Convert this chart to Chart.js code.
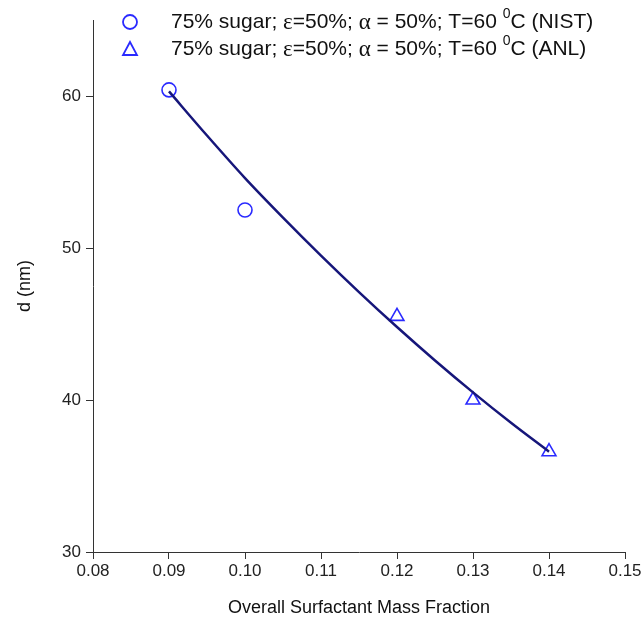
<!DOCTYPE html>
<html>
<head>
<meta charset="utf-8">
<script src="https://cdn.jsdelivr.net/npm/chart.js@4"></script>
<style>
    body { margin: 0; background: #fff; }
    #wrap { width: 641px; height: 619px; }
</style>
</head>
<body>
<div id="wrap"><canvas id="sizeChart" width="641" height="619"></canvas></div>
<script>
// measured points
const nistX = [0.09, 0.10];
const nistD = [60.4, 52.5];
const anlX = [0.12, 0.13, 0.14];
const anlD = [45.5, 40.0, 36.6];

// fitted curve
const fitX = [0.09, 0.095, 0.10, 0.105, 0.11, 0.115, 0.12, 0.125, 0.13, 0.135, 0.14];
const fitD = [60.3, 57.4, 54.6, 52.0, 49.5, 47.1, 44.8, 42.6, 40.5, 38.5, 36.6];

const xTicks = [0.08, 0.09, 0.10, 0.11, 0.12, 0.13, 0.14, 0.15];
const yTicks = [30, 40, 50, 60];

const legendLabels = [
    ['75% sugar; ', 'ε', '=50%; ', 'α', ' = 50%; T=60 ', '0', 'C (NIST)'],
    ['75% sugar; ', 'ε', '=50%; ', 'α', ' = 50%; T=60 ', '0', 'C (ANL)']
];

const toPoints = (xs, ys) => xs.map((x, i) => ({ x: x, y: ys[i] }));

const markerBlue = '#2a2aff';
const lineNavy = '#16167a';
const sans = '"Liberation Sans", Arial, sans-serif';

// legend drawn at the top of the plot, over the axes area
const topLegend = {
    id: 'topLegend',
    afterDraw(chart) {
        const ctx = chart.ctx;
        const rows = [22, 49];
        ctx.save();
        chart.data.datasets.slice(1).forEach((ds, i) => {
            const y = rows[i];
            ctx.strokeStyle = markerBlue;
            ctx.lineWidth = 1.8;
            ctx.beginPath();
            if (ds.pointStyle === 'circle') {
                ctx.arc(130, y, 7, 0, Math.PI * 2);
            } else {
                ctx.moveTo(130, y - 7);
                ctx.lineTo(137, y + 6);
                ctx.lineTo(123, y + 6);
                ctx.closePath();
            }
            ctx.stroke();

            let x = 171;
            ctx.fillStyle = '#111';
            ctx.textBaseline = 'middle';
            legendLabels[i].forEach((part, k) => {
                if (k === 1 || k === 3) {
                    ctx.font = '23px "Liberation Serif", serif';
                    ctx.fillText(part, x, y + 1);
                } else if (k === 5) {
                    ctx.font = '14px ' + sans;
                    ctx.fillText(part, x, y - 8);
                } else {
                    ctx.font = '21px ' + sans;
                    ctx.fillText(part, x, y);
                }
                x += ctx.measureText(part).width;
            });
        });
        ctx.restore();
    }
};

new Chart(document.getElementById('sizeChart').getContext('2d'), {
    type: 'scatter',
    data: {
        datasets: [
            {
                label: 'fit',
                type: 'line',
                data: toPoints(fitX, fitD),
                borderColor: lineNavy,
                borderWidth: 2.5,
                pointRadius: 0,
                fill: false,
                cubicInterpolationMode: 'monotone'
            },
            {
                label: '75% sugar; ε=50%; α = 50%; T=60 ⁰C (NIST)',
                data: toPoints(nistX, nistD),
                pointStyle: 'circle',
                pointRadius: 7,
                borderColor: markerBlue,
                backgroundColor: 'rgba(0,0,0,0)',
                borderWidth: 1.6
            },
            {
                label: '75% sugar; ε=50%; α = 50%; T=60 ⁰C (ANL)',
                data: toPoints(anlX, anlD),
                pointStyle: 'triangle',
                pointRadius: 8,
                borderColor: markerBlue,
                backgroundColor: 'rgba(0,0,0,0)',
                borderWidth: 1.6
            }
        ]
    },
    options: {
        responsive: false,
        animation: false,
        layout: { padding: { top: 20, right: 16, left: 0, bottom: 0 } },
        plugins: {
            legend: { display: false },
            tooltip: { enabled: false }
        },
        scales: {
            x: {
                type: 'linear',
                min: 0.08,
                max: 0.15,
                afterBuildTicks: (scale) => { scale.ticks = xTicks.map(v => ({ value: v })); },
                afterFit: (scale) => {
                    scale.height = 67;
                    scale.paddingRight = 0;
                },
                grid: { drawOnChartArea: false, drawTicks: true, tickLength: 7, color: '#333' },
                border: { display: true, color: '#333', width: 1 },
                ticks: {
                    padding: 2,
                    color: '#222',
                    font: { family: sans, size: 17 },
                    callback: (v) => Number(v).toFixed(2)
                },
                title: {
                    display: true,
                    text: 'Overall Surfactant Mass Fraction',
                    color: '#111',
                    padding: { top: 0, bottom: 0 },
                    font: { family: sans, size: 18 }
                }
            },
            y: {
                type: 'linear',
                min: 30,
                max: 65,
                afterBuildTicks: (scale) => { scale.ticks = yTicks.map(v => ({ value: v })); },
                afterFit: (scale) => { scale.width = 93; },
                grid: { drawOnChartArea: false, drawTicks: true, tickLength: 7, color: '#333' },
                border: { display: true, color: '#333', width: 1 },
                ticks: {
                    padding: 5,
                    color: '#222',
                    font: { family: sans, size: 17 }
                },
                title: {
                    display: true,
                    text: 'd (nm)',
                    color: '#111',
                    padding: { top: 14, bottom: 0 },
                    font: { family: sans, size: 18 }
                }
            }
        }
    },
    plugins: [topLegend]
});
</script>
</body>
</html>
